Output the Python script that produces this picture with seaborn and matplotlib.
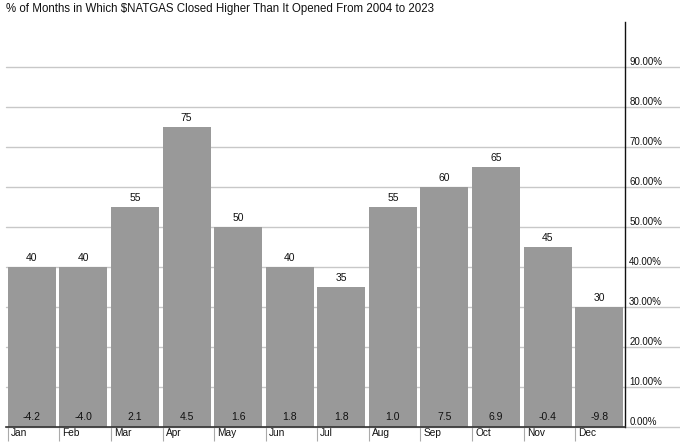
import matplotlib
matplotlib.use("Agg")
import matplotlib.pyplot as plt
import matplotlib.transforms as mtransforms
import seaborn as sns
import pandas as pd

months = ["Jan", "Feb", "Mar", "Apr", "May", "Jun", "Jul", "Aug", "Sep", "Oct", "Nov", "Dec"]
pct_higher = [40, 40, 55, 75, 50, 40, 35, 55, 60, 65, 45, 30]
avg_return = [-4.2, -4.0, 2.1, 4.5, 1.6, 1.8, 1.8, 1.0, 7.5, 6.9, -0.4, -9.8]
ytick_vals = [0, 10, 20, 30, 40, 50, 60, 70, 80, 90]
ytick_labels = ["0.00%", "10.00%", "20.00%", "30.00%", "40.00%", "50.00%",
                "60.00%", "70.00%", "80.00%", "90.00%"]
title = "% of Months in Which $NATGAS Closed Higher Than It Opened From 2004 to 2023"

sns.set_theme(style="white")
plt.rcParams["font.family"] = ["Liberation Sans", "DejaVu Sans"]

W, H = 680, 444
fig = plt.figure(figsize=(W / 100, H / 100), dpi=100)
left_px, right_px, top_px, bottom_px = 6, 625, 22, 427
ax = fig.add_axes([left_px / W, (H - bottom_px) / H,
                   (right_px - left_px) / W, (bottom_px - top_px) / H])

df = pd.DataFrame({"month": months, "pct": pct_higher, "ret": avg_return})
bw = 0.93
sns.barplot(data=df, x="month", y="pct", color="#999999", saturation=1,
            width=bw, ax=ax, zorder=3, edgecolor="none")

ax.set_xlim(-0.5, len(months) - 0.5)
ax.set_ylim(0, 101.25)

# grid lines extending past right axis
for v in ytick_vals:
    ax.axhline(v, xmin=0, xmax=(W - left_px) / (right_px - left_px), color="#c8c8c8",
               lw=1, zorder=1, clip_on=False)

# value labels
for i, (p, r) in enumerate(zip(pct_higher, avg_return)):
    ax.text(i, p + 1.0, f"{p}", ha="center", va="bottom", fontsize=7.5, color="#111111", zorder=4)
    ax.text(i, 1.2, f"{r:.1f}", ha="center", va="bottom", fontsize=7.5, color="#111111", zorder=4)

# right y axis
ax.yaxis.tick_right()
ax.set_yticks(ytick_vals)
ax.set_yticklabels(ytick_labels)
ax.tick_params(axis="y", length=0, pad=3, labelsize=7, labelcolor="#111111")
for lab in ax.get_yticklabels():
    lab.set_verticalalignment("bottom")

# x ticks at left edges of bars, labels to the right
ax.set_xticks([i - bw / 2 for i in range(len(months))])
ax.set_xticklabels(months)
ax.tick_params(axis="x", bottom=True, length=10, width=0.8, color="#aaaaaa",
               pad=-9.5, labelsize=7.3, labelcolor="#111111")
offset = mtransforms.ScaledTranslation(3 / 100, 0, fig.dpi_scale_trans)
for lab in ax.get_xticklabels():
    lab.set_horizontalalignment("left")
    lab.set_transform(lab.get_transform() + offset)

ax.set_xlabel("")
ax.set_ylabel("")
for s in ["left", "top"]:
    ax.spines[s].set_visible(False)
ax.spines["right"].set_color("#111111")
ax.spines["right"].set_linewidth(1)
ax.spines["bottom"].set_color("#333333")
ax.spines["bottom"].set_linewidth(1.2)
ax.spines["right"].set_zorder(5)
ax.spines["bottom"].set_zorder(5)

fig.text(6 / W, 1 - 3 / H, title, ha="left", va="top", fontsize=8.3, color="#111111")

fig.savefig("out.png", dpi=100)
